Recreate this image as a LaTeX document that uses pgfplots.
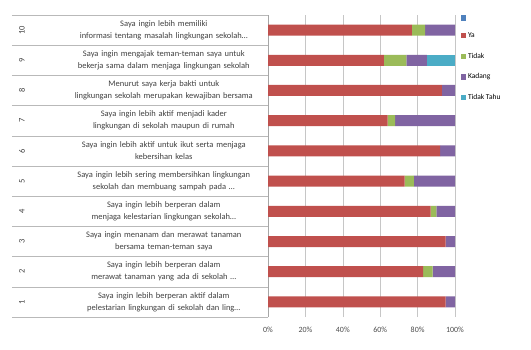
\documentclass[border=0pt]{standalone}
\usepackage{fontspec}
\setmainfont{Carlito}
\usepackage{pgfplots}
\pgfplotsset{compat=1.18}

\definecolor{cBlue}{HTML}{4F81BD}
\definecolor{cRed}{HTML}{C0504D}
\definecolor{cGreen}{HTML}{9BBB59}
\definecolor{cPurple}{HTML}{8064A2}
\definecolor{cCyan}{HTML}{4BACC6}

\begin{document}
\begin{tikzpicture}[x=1bp,y=1bp]
\path[use as bounding box] (0,0) rectangle (531,349);
\begin{axis}[
  at={(268bp,32bp)}, anchor=south west,
  width=187bp, height=302bp, scale only axis,
  xbar stacked, bar width=11bp,
  xmin=0, xmax=100, ymin=0.5, ymax=10.5,
  clip=false,
  axis x line*=bottom, axis y line*=left,
  x axis line style={draw=none},
  y axis line style={draw=gray!70},
  xmajorgrids, grid style={gray!45, line width=0.6pt},
  major tick length=0pt,
  xtick={0,20,40,60,80,100},
  xticklabel={\pgfmathprintnumber{\tick}\%},
  xticklabel style={font=\fontsize{8}{9}\selectfont, text=black!70, yshift=-7bp},
  /pgf/number format/assume math mode=true,
  ytick={1,...,10},
  yticklabels={
    {Saya ingin lebih berperan aktif dalam\\ pelestarian lingkungan di sekolah dan ling\ldots},
    {Saya ingin lebih berperan dalam\\ merawat tanaman yang ada di sekolah \ldots},
    {Saya ingin menanam dan merawat tanaman\\ bersama teman-teman saya},
    {Saya ingin lebih berperan dalam\\ menjaga kelestarian lingkungan sekolah\ldots},
    {Saya ingin lebih sering membersihkan lingkungan\\ sekolah dan membuang sampah pada \ldots},
    {Saya ingin lebih aktif untuk ikut serta menjaga\\ kebersihan kelas},
    {Saya ingin lebih aktif menjadi kader\\ lingkungan di sekolah maupun di rumah},
    {Menurut saya kerja bakti untuk\\ lingkungan sekolah merupakan kewajiban bersama},
    {Saya ingin mengajak teman-teman saya untuk\\ bekerja sama dalam menjaga lingkungan sekolah},
    {Saya ingin lebih memiliki\\ informasi tentang masalah lingkungan sekolah\ldots}
  },
  yticklabel style={font=\fontsize{8.5}{12}\selectfont, text=black!75,
    text width=200bp, align=center, inner sep=0pt, xshift=-4bp},
  legend style={at={(rel axis cs:1.03,1.0)}, anchor=north west,
    draw=none, fill=none, font=\fontsize{7.5}{9}\selectfont,
    row sep=10bp, inner sep=0pt},
  legend cell align=left,
  legend image code/.code={\fill[#1] (0bp,-2.6bp) rectangle (5.2bp,2.6bp);},
  every axis plot/.append style={draw=none},
]
% one series per answer, rows 1 (bottom) to 10 (top)
\addlegendimage{fill=cBlue, draw=none}
\addlegendentry{}
\addplot[fill=cRed] coordinates {
  (95,1) (83,2) (95,3) (87,4) (73,5) (92,6) (64,7) (93,8) (62,9) (77,10)};
\addlegendentry{Ya}
\addplot[fill=cGreen] coordinates {
  (0,1) (5,2) (0,3) (3,4) (5,5) (0,6) (4,7) (0,8) (12,9) (7,10)};
\addlegendentry{Tidak}
\addplot[fill=cPurple] coordinates {
  (5,1) (12,2) (5,3) (10,4) (22,5) (8,6) (32,7) (7,8) (11,9) (16,10)};
\addlegendentry{Kadang}
\addplot[fill=cCyan] coordinates {
  (0,1) (0,2) (0,3) (0,4) (0,5) (0,6) (0,7) (0,8) (15,9) (0,10)};
\addlegendentry{Tidak Tahu}

% category separators and question numbers
\pgfplotsinvokeforeach{0,...,10}{
  \draw[gray!55, line width=0.6pt] ([xshift=-256bp]axis cs:0,#1+0.5) -- (axis cs:0,#1+0.5);
}
\pgfplotsinvokeforeach{1,...,10}{
  \node[rotate=90, font=\fontsize{8.5}{9}\selectfont, text=black!75]
    at ([xshift=-246bp]axis cs:0,#1) {#1};
}
\end{axis}
\end{tikzpicture}
\end{document}
